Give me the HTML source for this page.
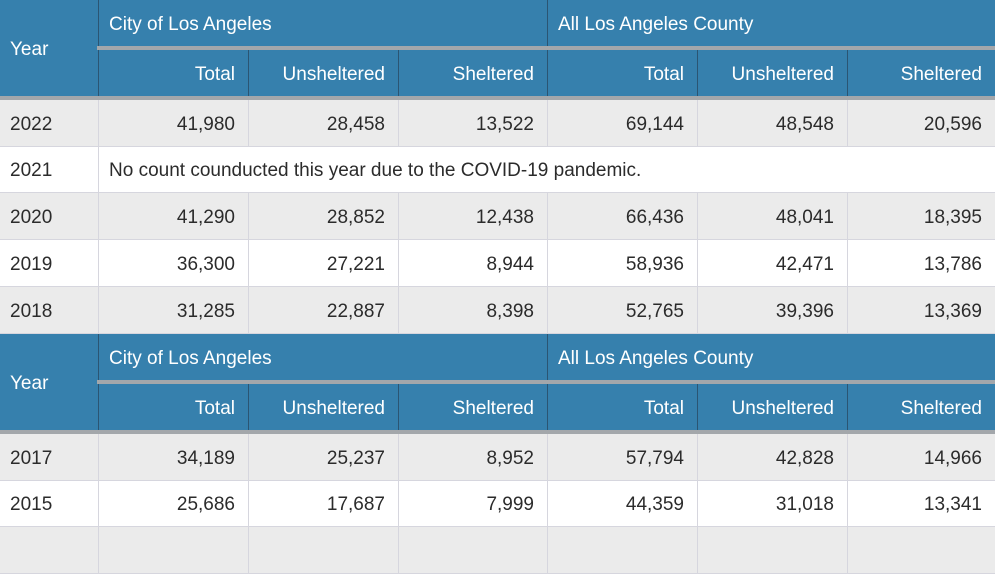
<!DOCTYPE html>
<html><head><meta charset="utf-8"><style>
body{margin:0;width:1000px;height:537px;overflow:hidden;background:#fff;font-family:"Liberation Sans",sans-serif;position:relative}
.c{position:absolute;box-sizing:border-box;font-size:19px;display:flex;align-items:center;color:#2b2b2b;padding-top:3px}
.h{background:#3680ad;color:#fff}
.r{justify-content:flex-end;padding-right:13px}
.l{padding-left:10px}
.g{background:#ebebeb}
.w{background:#fff}
.line{position:absolute;background:#a3a7ab}
.vb{border-left:1.5px solid #2b5573}
.bb{border-left:1.5px solid #d6d6de;border-bottom:1.5px solid #d6d6de}
.first{border-left:none}
</style></head><body>
<div id="t"></div>
<script>
const cols=[0,98,248,398,547,697,847,995];
const subs=["Total","Unsheltered","Sheltered","Total","Unsheltered","Sheltered"];
const t=document.getElementById('t');
function cell(x,y,w,h,cls,txt,name){
  const d=document.createElement('div');
  d.className='c '+cls;
  d.style.left=x+'px';d.style.top=y+'px';d.style.width=w+'px';d.style.height=h+'px';
  d.textContent=txt;
  
  
  t.appendChild(d);
}
function line(x,y,w,h,name){
  const d=document.createElement('div');
  d.className='line';
  d.style.left=x+'px';d.style.top=y+'px';d.style.width=w+'px';d.style.height=h+'px';
  
  
  t.appendChild(d);
}
function header(y){
  cell(0,y,98,96,'h l','Year','year-header');
  cell(98,y,449,46,'h l vb','City of Los Angeles','city-header');
  cell(547,y,448,46,'h l vb','All Los Angeles County','county-header');
  line(97,y+46,898,4,'group-divider');
  for(let i=0;i<6;i++)cell(cols[i+1],y+50,cols[i+2]-cols[i+1],46,'h r vb',subs[i],'subheader-'+subs[i].toLowerCase());
  line(0,y+96,995,4,'header-divider');
}
function row(y,h,bg,vals){
  cell(0,y,98,h,bg+' l bb first',vals[0],'year-cell');
  if(vals.length==2){cell(98,y,897,h,bg+' l bb',vals[1],'note-cell');return;}
  for(let i=0;i<6;i++)cell(cols[i+1],y,cols[i+2]-cols[i+1],h,bg+' r bb',vals[i+1],'value-cell');
}
header(0);
row(100,47,'g',["2022","41,980","28,458","13,522","69,144","48,548","20,596"]);
row(147,46,'w',["2021","No count counducted this year due to the COVID-19 pandemic."]);
row(193,47,'g',["2020","41,290","28,852","12,438","66,436","48,041","18,395"]);
row(240,47,'w',["2019","36,300","27,221","8,944","58,936","42,471","13,786"]);
row(287,47,'g',["2018","31,285","22,887","8,398","52,765","39,396","13,369"]);
header(334);
row(434,47,'g',["2017","34,189","25,237","8,952","57,794","42,828","14,966"]);
row(481,46,'w',["2015","25,686","17,687","7,999","44,359","31,018","13,341"]);
row(527,47,'g',["","","","","","",""]);
</script>
</body></html>
